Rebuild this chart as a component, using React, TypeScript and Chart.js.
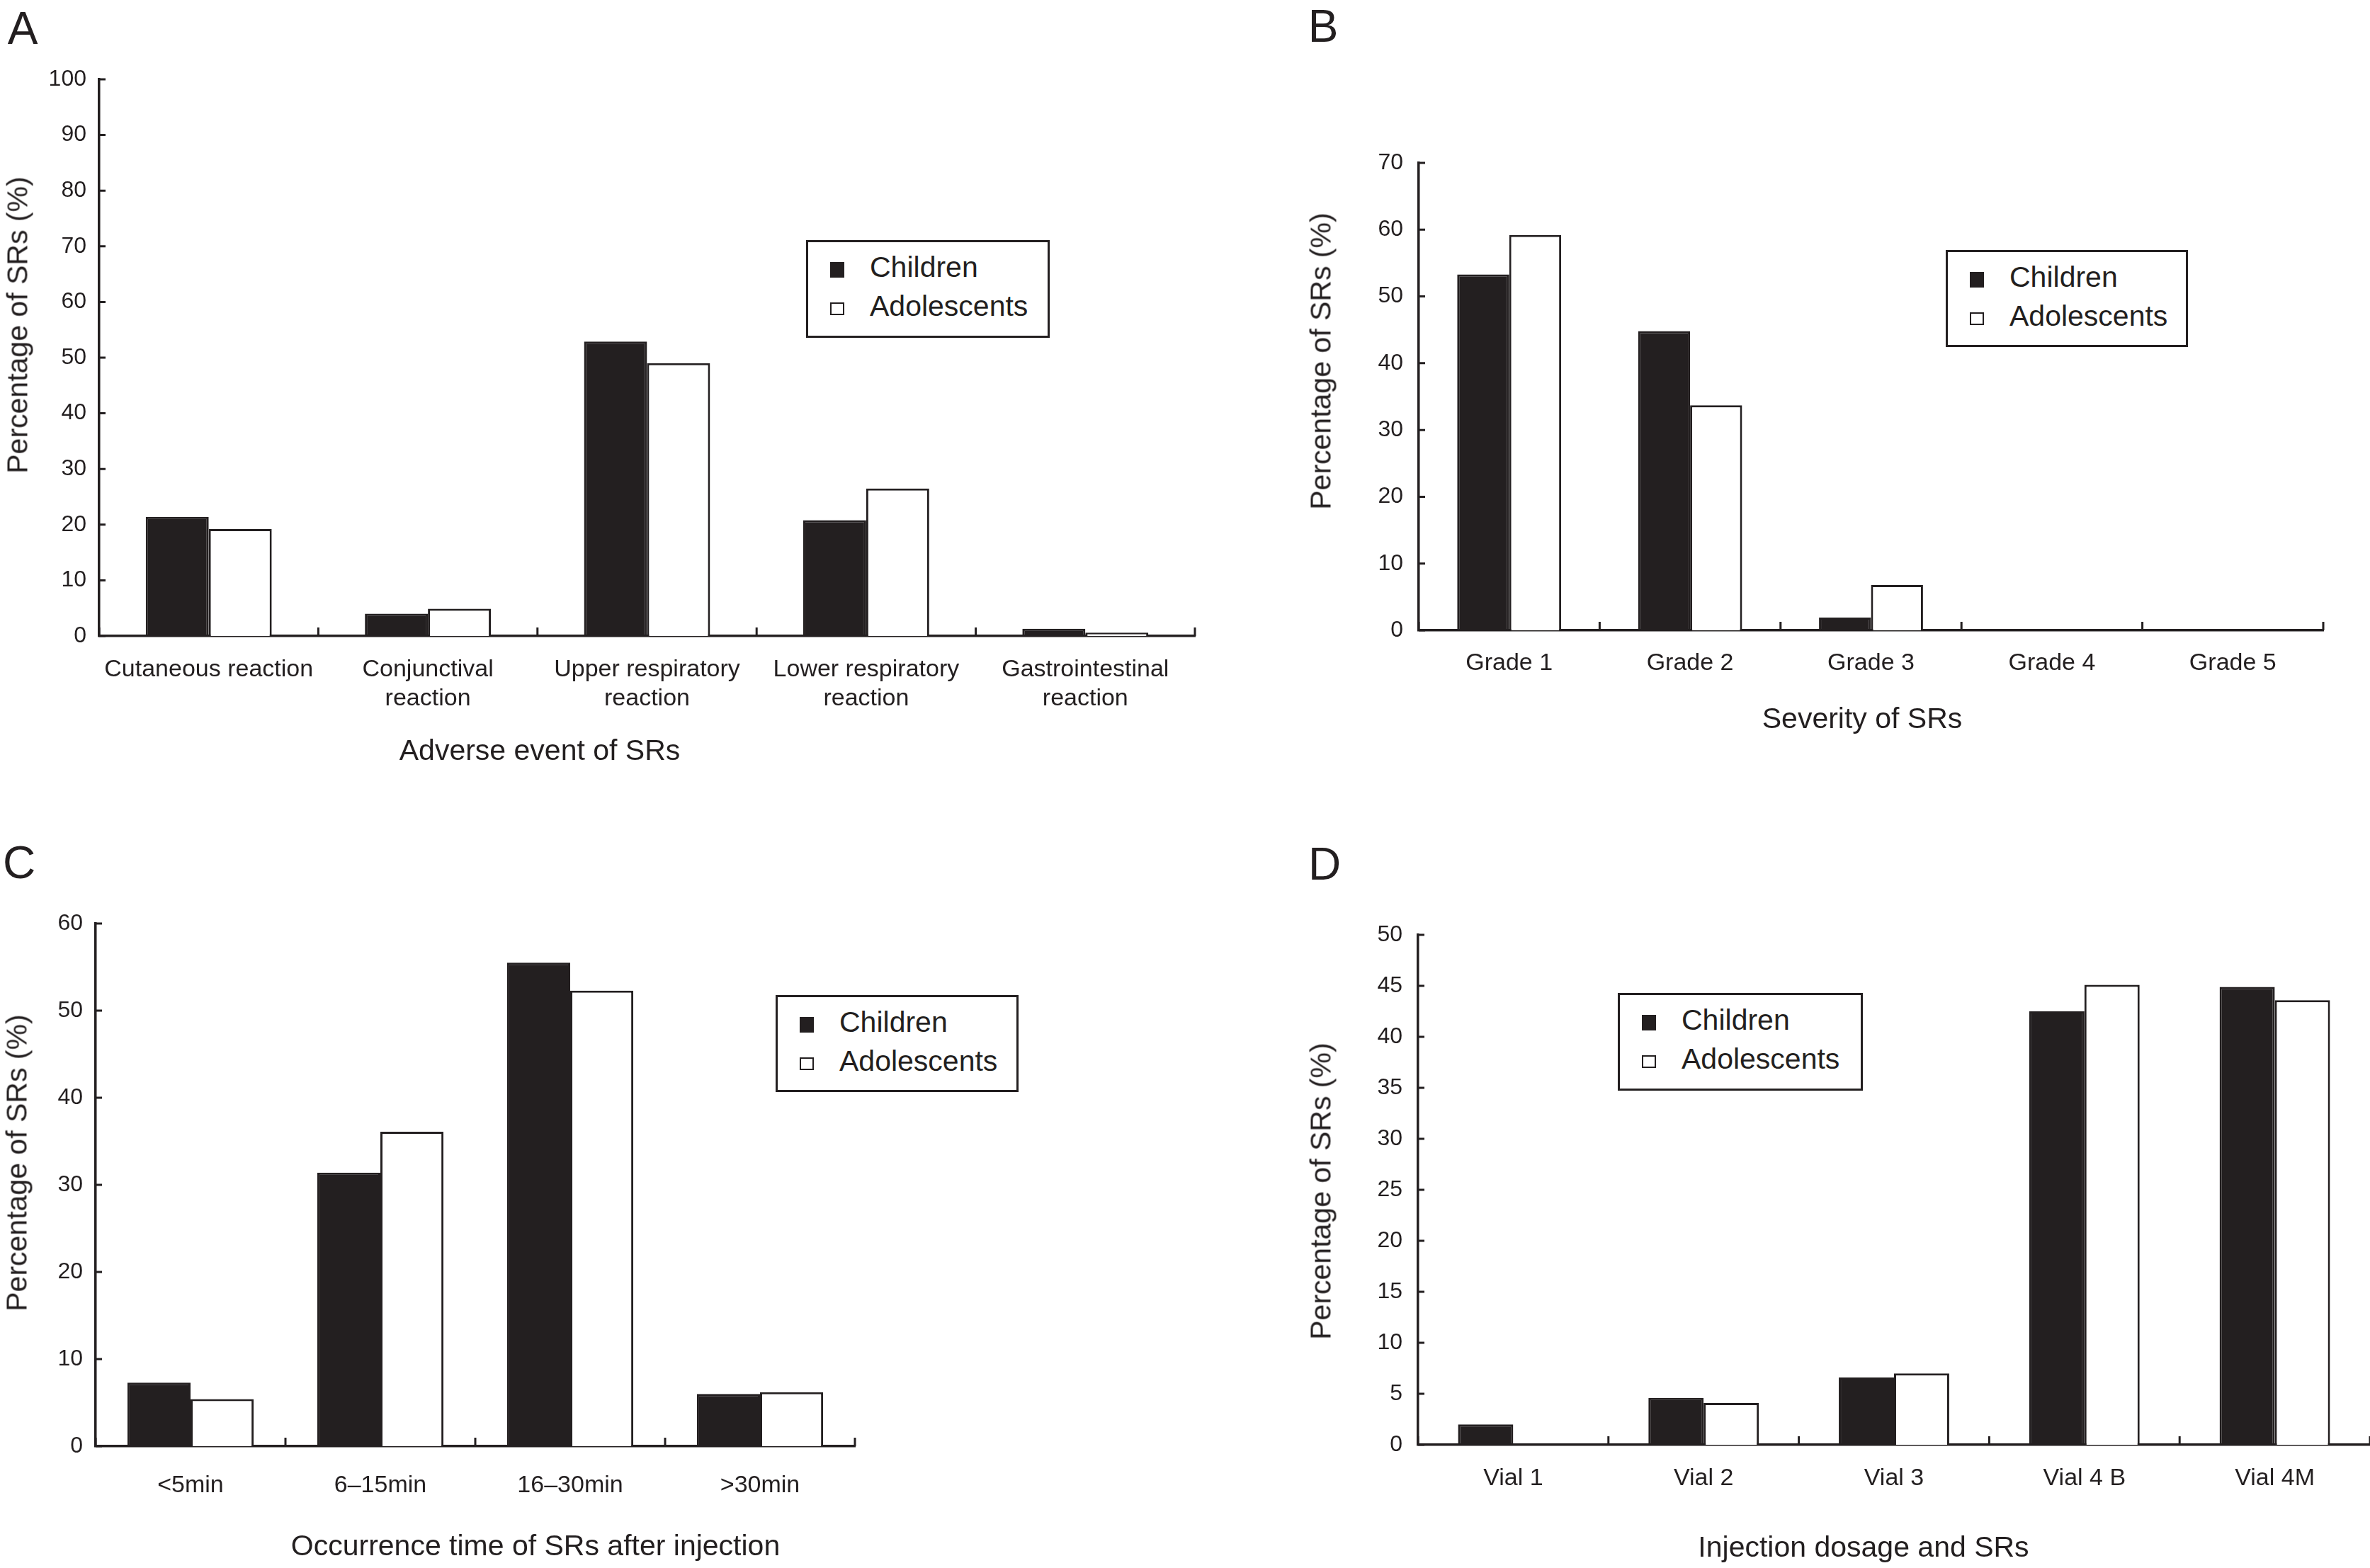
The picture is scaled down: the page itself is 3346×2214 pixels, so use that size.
import { useEffect, useRef } from 'react';
import { Chart, registerables } from 'chart.js';

Chart.register(...registerables);

const INK = '#231f20';
const FONT = '"Liberation Sans", Arial, Helvetica, sans-serif';

// Panel A – adverse events
const eventLabels = [
  'Cutaneous reaction',
  ['Conjunctival', 'reaction'],
  ['Upper respiratory', 'reaction'],
  ['Lower respiratory', 'reaction'],
  ['Gastrointestinal', 'reaction'],
];
const eventChildren = [21.4, 4.0, 52.9, 20.8, 1.3];
const eventAdolescents = [19.2, 4.9, 49.0, 26.5, 0.6];

// Panel B – severity
const gradeLabels = ['Grade 1', 'Grade 2', 'Grade 3', 'Grade 4', 'Grade 5'];
const gradeChildren = [53.3, 44.8, 1.9, 0, 0];
const gradeAdolescents = [59.2, 33.7, 6.8, 0, 0];

// Panel C – occurrence time
const timeLabels = ['<5min', '6–15min', '16–30min', '>30min'];
const timeChildren = [7.3, 31.4, 55.5, 6.0];
const timeAdolescents = [5.4, 36.1, 52.3, 6.2];

// Panel D – injection dosage
const vialLabels = ['Vial 1', 'Vial 2', 'Vial 3', 'Vial 4 B', 'Vial 4M'];
const vialChildren = [2.0, 4.6, 6.6, 42.5, 44.9];
const vialAdolescents = [0, 4.1, 7.0, 45.1, 43.6];

const seriesNames = ['Children', 'Adolescents'];

// short tick marks pointing into the plot
const inwardTicks = {
  id: 'inwardTicks',
  afterDatasetsDraw(chart: any) {
    const { ctx, chartArea, scales } = chart;
    const x = scales.x;
    const y = scales.y;
    ctx.save();
    ctx.strokeStyle = INK;
    ctx.lineWidth = 3;
    ctx.beginPath();
    y.ticks.forEach((t: any) => {
      const py = y.getPixelForValue(t.value);
      ctx.moveTo(chartArea.left, py);
      ctx.lineTo(chartArea.left + 9, py);
    });
    for (let i = 0; i <= x.ticks.length; i++) {
      const px = x.getPixelForValue(i - 0.5);
      ctx.moveTo(px, chartArea.bottom);
      ctx.lineTo(px, chartArea.bottom - 12);
    }
    ctx.stroke();
    ctx.restore();
  },
};

type Box = { left: number; top: number; width: number; height: number };
type Plot = { left: number; top: number; right: number; bottom: number };

type PanelProps = {
  box: Box;
  plot: Plot;
  labels: any[];
  children: number[];
  adolescents: number[];
  yMax: number;
  yStep: number;
  groupWidth: number;
  yPad: number;
  xPad: number;
};

function BarPanel({ box, plot, labels, children, adolescents, yMax, yStep, groupWidth, yPad, xPad }: PanelProps) {
  const canvasRef = useRef<HTMLCanvasElement>(null);
  const chartRef = useRef<Chart | null>(null);

  useEffect(() => {
    if (!canvasRef.current) return;
    if (chartRef.current) chartRef.current.destroy();

    const yWidth = plot.left - box.left;
    const xHeight = box.top + box.height - plot.bottom;

    chartRef.current = new Chart(canvasRef.current, {
      type: 'bar',
      data: {
        labels,
        datasets: [
          {
            label: seriesNames[0],
            data: children,
            backgroundColor: INK,
            borderColor: INK,
            borderWidth: 3,
          },
          {
            label: seriesNames[1],
            data: adolescents,
            backgroundColor: '#ffffff',
            borderColor: INK,
            borderWidth: 3,
          },
        ],
      },
      options: {
        responsive: false,
        animation: false,
        devicePixelRatio: 1,
        datasets: {
          bar: { categoryPercentage: groupWidth, barPercentage: 1 },
        },
        layout: {
          padding: {
            left: 0,
            top: plot.top - box.top,
            right: box.left + box.width - plot.right,
            bottom: 0,
          },
        },
        plugins: {
          legend: { display: false },
          tooltip: { enabled: false },
        },
        scales: {
          x: {
            grid: { display: false },
            border: { display: true, color: INK, width: 3.5 },
            ticks: {
              color: INK,
              font: { family: FONT, size: 34, lineHeight: 1.2 },
              padding: xPad,
              maxRotation: 0,
              autoSkip: false,
            },
            afterFit: (s: any) => {
              s.height = xHeight;
            },
          },
          y: {
            min: 0,
            max: yMax,
            grid: { display: false, drawTicks: false },
            border: { display: true, color: INK, width: 3.5 },
            ticks: {
              stepSize: yStep,
              color: INK,
              font: { family: FONT, size: 32 },
              padding: yPad,
              autoSkip: false,
            },
            afterFit: (s: any) => {
              s.width = yWidth;
            },
          },
        },
      },
      plugins: [inwardTicks],
    });

    return () => {
      if (chartRef.current) {
        chartRef.current.destroy();
        chartRef.current = null;
      }
    };
  }, []);

  return (
    <canvas
      ref={canvasRef}
      width={box.width}
      height={box.height}
      style={{ position: 'absolute', left: box.left, top: box.top, width: box.width, height: box.height, display: 'block' }}
    />
  );
}

function Text({ x, y, size, text, rotate }: { x: number; y: number; size: number; text: string; rotate?: boolean }) {
  return (
    <div
      style={{
        position: 'absolute',
        left: x,
        top: y,
        transform: `translate(-50%, -50%)${rotate ? ' rotate(-90deg)' : ''}`,
        fontFamily: FONT,
        fontSize: size,
        lineHeight: 1,
        whiteSpace: 'nowrap',
        color: INK,
      }}
    >
      {text}
    </div>
  );
}

function Legend({ left, top, right, bottom }: Plot) {
  const label = { position: 'absolute' as const, left: 87, fontFamily: FONT, fontSize: 41, lineHeight: 1, color: INK, whiteSpace: 'nowrap' as const };
  return (
    <div
      style={{
        position: 'absolute',
        left,
        top,
        width: right - left,
        height: bottom - top,
        border: `3px solid ${INK}`,
        boxSizing: 'border-box',
        background: '#fff',
      }}
    >
      <div style={{ position: 'absolute', left: 31, top: 28, width: 20, height: 22, background: INK }} />
      <div style={{ ...label, top: 15 }}>{seriesNames[0]}</div>
      <div style={{ position: 'absolute', left: 31, top: 85, width: 20, height: 18, border: `2.5px solid ${INK}`, boxSizing: 'border-box' }} />
      <div style={{ ...label, top: 70 }}>{seriesNames[1]}</div>
    </div>
  );
}

export default function App() {
  return (
    <div style={{ position: 'absolute', left: 0, top: 0, width: 3346, height: 2214, background: '#fff', overflow: 'hidden' }}>
      <BarPanel
        box={{ left: 0, top: 0, width: 1700, height: 1107 }}
        plot={{ left: 140, top: 112, right: 1687, bottom: 898 }}
        labels={eventLabels}
        children={eventChildren}
        adolescents={eventAdolescents}
        yMax={100}
        yStep={10}
        groupWidth={0.575}
        yPad={18}
        xPad={19}
      />
      <BarPanel
        box={{ left: 1700, top: 0, width: 1646, height: 1107 }}
        plot={{ left: 2003, top: 230, right: 3280, bottom: 890 }}
        labels={gradeLabels}
        children={gradeChildren}
        adolescents={gradeAdolescents}
        yMax={70}
        yStep={10}
        groupWidth={0.575}
        yPad={22}
        xPad={18}
      />
      <BarPanel
        box={{ left: 0, top: 1107, width: 1700, height: 1107 }}
        plot={{ left: 135, top: 1304, right: 1207, bottom: 2042 }}
        labels={timeLabels}
        children={timeChildren}
        adolescents={timeAdolescents}
        yMax={60}
        yStep={10}
        groupWidth={0.665}
        yPad={18}
        xPad={27}
      />
      <BarPanel
        box={{ left: 1700, top: 1107, width: 1646, height: 1107 }}
        plot={{ left: 2002, top: 1320, right: 3346, bottom: 2040 }}
        labels={vialLabels}
        children={vialChildren}
        adolescents={vialAdolescents}
        yMax={50}
        yStep={5}
        groupWidth={0.58}
        yPad={22}
        xPad={19}
      />

      <Text x={32} y={40} size={64} text="A" />
      <Text x={1868} y={37} size={64} text="B" />
      <Text x={27} y={1218} size={64} text="C" />
      <Text x={1870} y={1220} size={64} text="D" />

      <Text x={25} y={459} size={41} text="Percentage of SRs (%)" rotate />
      <Text x={1865} y={510} size={41} text="Percentage of SRs (%)" rotate />
      <Text x={24} y={1642} size={41} text="Percentage of SRs (%)" rotate />
      <Text x={1865} y={1682} size={41} text="Percentage of SRs (%)" rotate />

      <Text x={762} y={1059} size={41} text="Adverse event of SRs" />
      <Text x={2629} y={1014} size={41} text="Severity of SRs" />
      <Text x={756} y={2182} size={41} text="Occurrence time of SRs after injection" />
      <Text x={2631} y={2184} size={41} text="Injection dosage and SRs" />

      <Legend left={1138} top={339} right={1482} bottom={477} />
      <Legend left={2747} top={353} right={3089} bottom={490} />
      <Legend left={1095} top={1405} right={1438} bottom={1542} />
      <Legend left={2284} top={1402} right={2630} bottom={1540} />
    </div>
  );
}
